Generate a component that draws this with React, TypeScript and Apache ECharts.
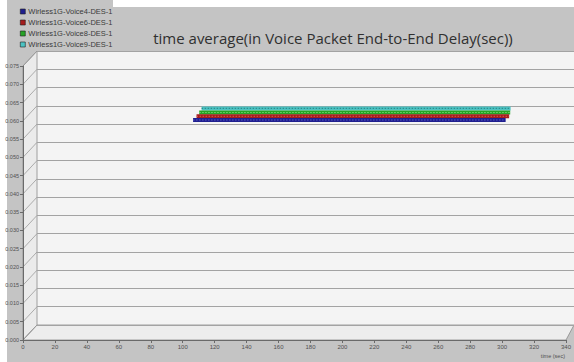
import React, { useEffect, useRef } from "react";
import * as echarts from "echarts";

const seriesNames = [
  "Wirless1G-Voice4-DES-1",
  "Wirless1G-Voice6-DES-1",
  "Wirless1G-Voice8-DES-1",
  "Wirless1G-Voice9-DES-1",
];
const seriesColors = ["#1f1f8f", "#a51c1c", "#26a326", "#4cc3c3"];
const seriesDots = ["#5a5ac8", "#d85a5a", "#6fd86f", "#2a8e8e"];
const depths = [0.125, 0.375, 0.625, 0.875];

const times = [105, 130, 160, 190, 220, 250, 280, 300];
const voice4 = [0.0597, 0.0597, 0.0597, 0.0597, 0.0597, 0.0597, 0.0597, 0.0597];
const voice6 = [0.0597, 0.0597, 0.0597, 0.0597, 0.0597, 0.0597, 0.0597, 0.0597];
const voice8 = [0.0597, 0.0597, 0.0597, 0.0597, 0.0597, 0.0597, 0.0597, 0.0597];
const voice9 = [0.0598, 0.0598, 0.0598, 0.0598, 0.0598, 0.0598, 0.0598, 0.0598];
const seriesValues = [voice4, voice6, voice8, voice9];

const yMin = 0;
const yMax = 0.075;
const yStep = 0.005;
const xMin = 0;
const xMax = 340;
const xStep = 20;
const yTicks: number[] = [0, 0.005, 0.01, 0.015, 0.02, 0.025, 0.03, 0.035, 0.04, 0.045, 0.05, 0.055, 0.06, 0.065, 0.07, 0.075];

// layout
const FX = 23;
const FY = 66;
const W = 545;
const H = 274;
const DX = 14;
const DY = 15;

const BG = "#c4c4c4";
const FONT = "Liberation Sans";

export default function App() {
  const ref = useRef<HTMLDivElement>(null);
  useEffect(() => {
    if (!ref.current) return;
    const chart = echarts.init(ref.current, undefined, { renderer: "svg" });

    const grids: any[] = [
      { left: FX, top: FY, width: W, height: H },
      { left: FX + DX, top: FY - DY, width: W, height: H },
      ...depths.map((d) => ({ left: FX + DX * d, top: FY - DY * d, width: W, height: H })),
    ];
    const hiddenAxis = (gi: number, kind: "x" | "y") => ({
      type: "value",
      gridIndex: gi,
      min: kind === "x" ? xMin : yMin,
      max: kind === "x" ? xMax : yMax,
      interval: kind === "x" ? xStep : yStep,
      show: false,
      splitLine: { show: false },
    });

    const xAxes: any[] = [
      {
        type: "value",
        gridIndex: 0,
        min: xMin,
        max: xMax,
        interval: xStep,
        axisLine: { show: true, onZero: false, lineStyle: { color: "#6a6a6a", width: 1 } },
        axisTick: { show: true, length: 3, lineStyle: { color: "#6a6a6a" } },
        axisLabel: { fontSize: 6, color: "#505050", margin: 4, fontFamily: FONT },
        splitLine: { show: false },
      },
      hiddenAxis(1, "x"),
      ...depths.map((_, i) => hiddenAxis(i + 2, "x")),
    ];
    const yAxes: any[] = [
      {
        type: "value",
        gridIndex: 0,
        min: yMin,
        max: yMax,
        interval: yStep,
        axisLine: { show: true, onZero: false, lineStyle: { color: "#6a6a6a", width: 1 } },
        axisTick: { show: true, length: 3, lineStyle: { color: "#6a6a6a" } },
        axisLabel: {
          fontSize: 5.5,
          color: "#505050",
          margin: 4,
          fontFamily: FONT,
          formatter: (v: number) => v.toFixed(3),
        },
        splitLine: { show: false },
      },
      {
        type: "value",
        gridIndex: 1,
        min: yMin,
        max: yMax,
        interval: yStep,
        axisLine: { show: false },
        axisTick: { show: false },
        axisLabel: { show: false },
        splitLine: { show: true, lineStyle: { color: "#a3a3a3", width: 1 } },
      },
      ...depths.map((_, i) => hiddenAxis(i + 2, "y")),
    ];

    const series: any[] = [];
    seriesNames.forEach((name, i) => {
      const data = times.map((t, k) => [t, seriesValues[i][k]]);
      series.push({
        name,
        type: "line",
        xAxisIndex: i + 2,
        yAxisIndex: i + 2,
        data,
        showSymbol: false,
        color: seriesColors[i],
        lineStyle: { color: seriesColors[i], width: 4, cap: "butt" },
        z: 10 - i * 2,
        silent: true,
      });
      series.push({
        name,
        type: "line",
        xAxisIndex: i + 2,
        yAxisIndex: i + 2,
        data,
        showSymbol: false,
        color: seriesColors[i],
        lineStyle: { color: seriesDots[i], width: 1.2, type: [1.5, 1.5], cap: "butt" },
        z: 11 - i * 2,
        silent: true,
      });
    });

    const option: any = {
      animation: false,
      backgroundColor: BG,
      grid: grids,
      xAxis: xAxes,
      yAxis: yAxes,
      legend: {
        data: seriesNames,
        orient: "vertical",
        left: 20,
        top: 7,
        padding: 0,
        itemGap: 2,
        itemWidth: 5,
        itemHeight: 5,
        icon: "rect",
        itemStyle: { borderColor: "#202020", borderWidth: 0.6 },
        textStyle: { fontSize: 7.5, color: "#3a3a3a", fontFamily: FONT, lineHeight: 9, padding: [0, 0, 0, -2] },
        selectedMode: false,
      },
      title: {
        text: "time average(in Voice Packet End-to-End Delay(sec))",
        left: 328,
        top: 25,
        textAlign: "center",
        textStyle: { fontSize: 15, fontWeight: "normal", color: "#303030", fontFamily: "Open Sans" },
      },
      series,
    };
    chart.setOption(option);

    // decorations computed from the axes' scales
    const p = (gi: number, x: number, y: number) => chart.convertToPixel({ gridIndex: gi } as any, [x, y]) as number[];
    const f00 = p(0, xMin, yMin);
    const fTop = p(0, xMin, yMax);
    const fEnd = p(0, xMax, yMin);
    const b00 = p(1, xMin, yMin);
    const bTop = p(1, xMin, yMax);
    const bEnd = p(1, xMax, yMin);
    const elements: any[] = [
      { type: "rect", shape: { x: 0, y: 0, width: 7, height: 362 }, style: { fill: "#ffffff" }, z: -20, silent: true },
      { type: "rect", shape: { x: 113, y: 0, width: 461, height: 7 }, style: { fill: "#ffffff" }, z: -20, silent: true },
      {
        type: "rect",
        shape: { x: bTop[0], y: bTop[1], width: bEnd[0] - bTop[0], height: b00[1] - bTop[1] },
        style: { fill: "#f4f4f4" },
        z: -20,
        silent: true,
      },
      {
        type: "polygon",
        shape: { points: [fTop, bTop, b00, f00] },
        style: { fill: "#ebebeb", stroke: "#8a8a8a", lineWidth: 0.8 },
        z: -19,
        silent: true,
      },
      {
        type: "polygon",
        shape: { points: [f00, b00, bEnd, fEnd] },
        style: { fill: "#ededed", stroke: "#8a8a8a", lineWidth: 0.8 },
        z: -19,
        silent: true,
      },
      ...yTicks.map((v) => {
        const a = p(0, xMin, v);
        const b = p(1, xMin, v);
        return {
          type: "line",
          shape: { x1: a[0], y1: a[1], x2: b[0], y2: b[1] },
          style: { stroke: "#9a9a9a", lineWidth: 0.8 },
          z: -18,
          silent: true,
        };
      }),
      {
        type: "text",
        x: fEnd[0] - 1,
        y: 353,
        style: { text: "time (sec)", fontSize: 5.5, fill: "#505050", fontFamily: FONT, align: "right" },
        silent: true,
      },
    ];
    chart.setOption({ graphic: { elements } });

    return () => chart.dispose();
  }, []);
  return <div ref={ref} style={{ position: "absolute", left: 0, top: 0, width: 574, height: 362 }} />;
}
